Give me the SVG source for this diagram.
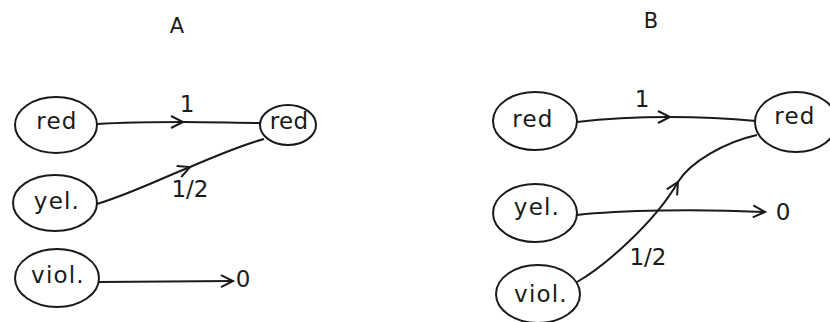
<svg xmlns="http://www.w3.org/2000/svg" width="830" height="322" viewBox="0 0 830 322">
<style>
.node ellipse{fill:none;stroke:#1a1a1a;stroke-width:2}
.node text, .lbl{font-family:"DejaVu Sans","Liberation Sans",sans-serif;font-size:23px;fill:#1a1a1a;text-anchor:middle}
.node text{letter-spacing:1.2px}
.title{font-family:"DejaVu Sans","Liberation Sans",sans-serif;font-size:21px;fill:#1a1a1a;text-anchor:middle}
.edge{fill:none;stroke:#1a1a1a;stroke-width:2}
.mid{marker-mid:url(#v)}
.end{marker-end:url(#v)}
</style>
<defs>
<marker id="v" markerUnits="userSpaceOnUse" markerWidth="30" markerHeight="30" refX="0" refY="0" viewBox="-15 -15 30 30" orient="auto" overflow="visible">
<path d="M-12,-6 L0,0 L-12,6" fill="none" stroke="#1a1a1a" stroke-width="2" stroke-linejoin="miter"/>
</marker>
</defs>
<rect width="830" height="322" fill="#ffffff"/>
<text class="title" x="177" y="33">A</text>
<text class="title" x="651" y="28">B</text>
<g id="connectors">
<path class="edge mid" d="M97,124 C130,122 160,122 183,122 C210,122 240,123 260,123"/>
<path class="edge mid" d="M97,204 C130,194 160,179 190,167 C218,155 242,145 264,139"/>
<path class="edge end" d="M98,282 L233,281"/>
<path class="edge mid" d="M577,122 C610,118 640,117 670,117 C705,117 735,119 756,121"/>
<path class="edge end" d="M577,215 C620,210 700,209 765,212"/>
<path class="edge mid" d="M577,282 C605,266 655,222 678,182 C690,162 725,142 757,135"/>
</g>
<g id="edge-labels">
<text class="lbl" x="187" y="112">1</text>
<text class="lbl" x="190" y="197">1/2</text>
<text class="lbl" x="243" y="287">0</text>
<text class="lbl" x="642" y="107">1</text>
<text class="lbl" x="783" y="220">0</text>
<text class="lbl" x="648" y="265">1/2</text>
</g>
<g id="A-red-src" class="node"><ellipse cx="56" cy="125" rx="41" ry="28"/><text x="57" y="129">red</text></g>
<g id="A-yel" class="node"><ellipse cx="55" cy="203" rx="42" ry="28"/><text x="57" y="209">yel.</text></g>
<g id="A-viol" class="node"><ellipse cx="57" cy="278" rx="42" ry="29"/><text x="58" y="283">viol.</text></g>
<g id="A-red-dst" class="node"><ellipse cx="288" cy="125" rx="28" ry="20"/><text x="289" y="129" style="letter-spacing:0.3px">red</text></g>
<g id="B-red-src" class="node"><ellipse cx="535" cy="121" rx="42" ry="29"/><text x="533" y="127">red</text></g>
<g id="B-yel" class="node"><ellipse cx="535" cy="213" rx="42" ry="29"/><text x="537" y="215">yel.</text></g>
<g id="B-viol" class="node"><ellipse cx="538" cy="294" rx="42" ry="29"/><text x="541" y="302">viol.</text></g>
<g id="B-red-dst" class="node"><ellipse cx="796" cy="122" rx="41" ry="30"/><text x="795" y="124">red</text></g>
</svg>
